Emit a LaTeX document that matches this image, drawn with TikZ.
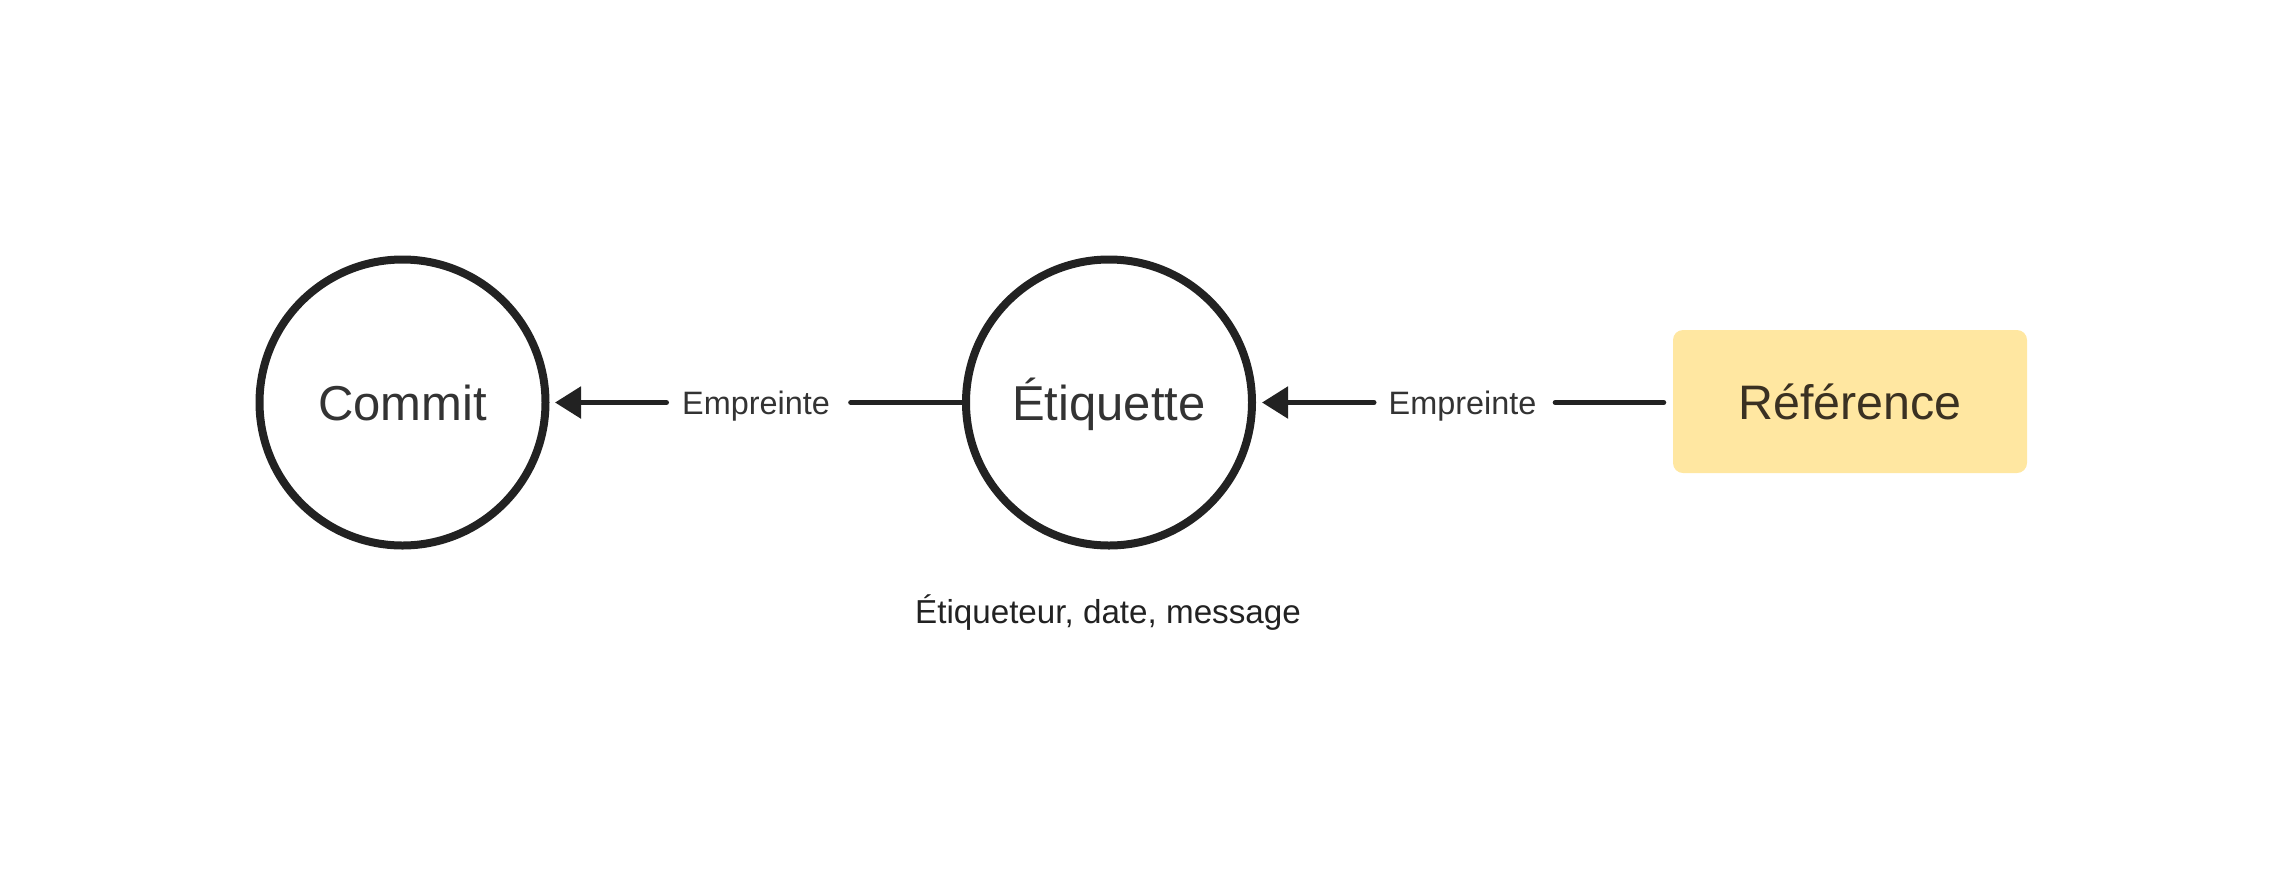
\documentclass[tikz,border=0pt]{standalone}
\usepackage{fontspec}
\setmainfont{Liberation Sans}
\usetikzlibrary{arrows.meta}
\definecolor{stroke}{HTML}{222222}
\definecolor{txt}{HTML}{333333}
\definecolor{refill}{HTML}{FFE7A1}
\definecolor{reftxt}{HTML}{3A3122}
\definecolor{metatxt}{HTML}{222222}
\begin{document}
\begin{tikzpicture}[x=0.5pt,y=-0.5pt,
  circ/.style={circle, draw=stroke, line width=4pt, minimum size=143pt, inner sep=0pt,
    text=txt, font=\fontsize{24.5}{29}\selectfont, text height=17.5pt, text depth=0pt},
  refbox/.style={rectangle, rounded corners=5pt, fill=refill, minimum width=177pt,
    minimum height=71.5pt, inner sep=0pt, text=reftxt, font=\fontsize{24.2}{29}\selectfont,
    text height=17.5pt, text depth=0pt},
  edgelbl/.style={text=txt, font=\fontsize{16.2}{19}\selectfont, inner sep=0pt, anchor=base},
  metalbl/.style={text=metatxt, font=\fontsize{16.6}{20}\selectfont, inner sep=0pt, anchor=base},
  conn/.style={draw=stroke, line width=2.65pt, line cap=round},
  tip/.style={-{Triangle[length=13pt,width=15.5pt]}}
]
\useasboundingbox (0,0) rectangle (2283,890);
\node[circ] (commit) at (402.5,402.5) {Commit};
\node[circ] (etiq) at (1109,402.5) {Étiquette};
\node[refbox] (ref) at (1850,401.5) {Référence};
\node[edgelbl] (e1) at (756,414) {Empreinte};
\node[edgelbl] (e2) at (1462.5,414) {Empreinte};
\node[metalbl] (meta) at (1108,623) {Étiqueteur, date, message};
% Etiquette -> Commit
\draw[conn, shorten >=10.3pt] (etiq.west) -- (e1.east |- etiq.west);
\draw[conn, tip, shorten <=7.7pt, shorten >=2.75pt] (e1.west |- commit.east) -- (commit.east);
% Reference -> Etiquette
\draw[conn, shorten <=4.5pt, shorten >=9.3pt] (ref.west |- etiq.east) -- (e2.east |- etiq.east);
\draw[conn, tip, shorten <=7.2pt, shorten >=3pt] (e2.west |- etiq.east) -- (etiq.east);
\end{tikzpicture}
\end{document}
